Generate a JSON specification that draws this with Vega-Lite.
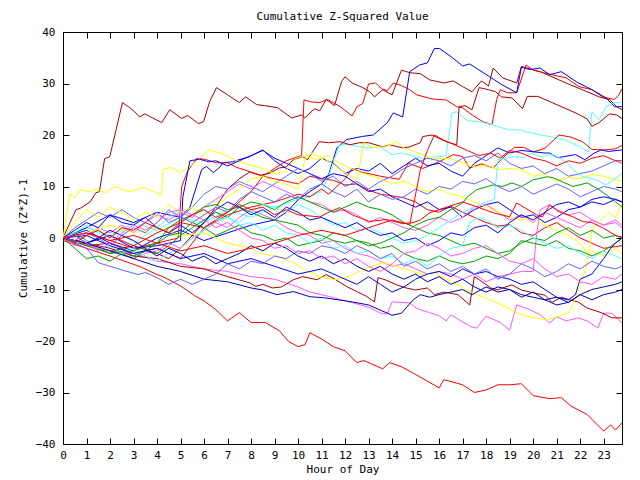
{
"$schema": "https://vega.github.io/schema/vega-lite/v6.json",
"width": 559, "height": 412,
"autosize": {"type": "none"},
"padding": {"left": 63, "top": 32, "right": 18, "bottom": 36},
"title": {"text": "Cumulative Z-Squared Value", "font": "DejaVu Sans Mono", "fontSize": 11, "fontWeight": "normal", "color": "#000", "offset": 4},
"config": {
  "view": {"stroke": null},
  "axis": {"labelFont": "DejaVu Sans Mono", "labelFontSize": 11, "titleFont": "DejaVu Sans Mono", "titleFontSize": 11, "titleFontWeight": "normal", "labelColor": "#000", "titleColor": "#000", "domainColor": "#000", "tickColor": "#000", "grid": false, "tickSize": -6, "labelPadding": 14, "domainWidth": 1, "tickWidth": 1, "labelFlush": false, "labelOverlap": false}
},
"datasets": {
"frame": [{"h": 0, "v": -40}, {"h": 23.78, "v": 40}],
"walks": [
{"s":"r1","h":0,"v":-0.5},{"s":"r1","h":1,"v":-2},{"s":"r1","h":2,"v":-3.5},{"s":"r1","h":3.3,"v":-5.6},{"s":"r1","h":4,"v":-7.1},{"s":"r1","h":4.25,"v":-7.5},{"s":"r1","h":5,"v":-9.3},{"s":"r1","h":5.6,"v":-11.2},{"s":"r1","h":6,"v":-12.2},{"s":"r1","h":6.5,"v":-13.9},{"s":"r1","h":7,"v":-16.1},{"s":"r1","h":7.5,"v":-14.5},{"s":"r1","h":8,"v":-16.4},{"s":"r1","h":8.6,"v":-16.4},{"s":"r1","h":9.2,"v":-18},{"s":"r1","h":9.6,"v":-20.1},{"s":"r1","h":10,"v":-21.1},{"s":"r1","h":10.3,"v":-20.7},{"s":"r1","h":10.5,"v":-18.4},{"s":"r1","h":11,"v":-19.6},{"s":"r1","h":11.5,"v":-21.1},{"s":"r1","h":12,"v":-21.9},{"s":"r1","h":12.5,"v":-24.2},{"s":"r1","h":12.8,"v":-23.8},{"s":"r1","h":13.6,"v":-25.4},{"s":"r1","h":13.9,"v":-24.2},{"s":"r1","h":14.4,"v":-25},{"s":"r1","h":15,"v":-26.5},{"s":"r1","h":16,"v":-29.1},{"s":"r1","h":16.2,"v":-27.5},{"s":"r1","h":17,"v":-28.5},{"s":"r1","h":17.5,"v":-30},{"s":"r1","h":18,"v":-29.5},{"s":"r1","h":18.5,"v":-28.5},{"s":"r1","h":19,"v":-28.5},{"s":"r1","h":19.5,"v":-28.3},{"s":"r1","h":20,"v":-30.6},{"s":"r1","h":20.7,"v":-31.2},{"s":"r1","h":21.2,"v":-31},{"s":"r1","h":21.6,"v":-32.6},{"s":"r1","h":22.3,"v":-34.3},{"s":"r1","h":23,"v":-37.5},{"s":"r1","h":23.3,"v":-36.3},{"s":"r1","h":23.5,"v":-37.3},{"s":"r1","h":23.78,"v":-35.9},

{"s":"d1","h":0,"v":0},{"s":"d1","h":0.3,"v":3},{"s":"d1","h":0.55,"v":5.5},{"s":"d1","h":0.75,"v":5.8},{"s":"d1","h":1.15,"v":7},{"s":"d1","h":1.4,"v":8.8},{"s":"d1","h":1.55,"v":9},{"s":"d1","h":1.77,"v":15.4},{"s":"d1","h":1.99,"v":15.8},{"s":"d1","h":2.53,"v":26.3},{"s":"d1","h":2.84,"v":25.3},{"s":"d1","h":3.05,"v":24.5},{"s":"d1","h":3.26,"v":23.5},{"s":"d1","h":3.48,"v":24.1},{"s":"d1","h":4.2,"v":22.4},{"s":"d1","h":4.54,"v":24.9},{"s":"d1","h":5.05,"v":23.2},{"s":"d1","h":5.3,"v":23.8},{"s":"d1","h":5.77,"v":22.2},{"s":"d1","h":5.98,"v":22.6},{"s":"d1","h":6.24,"v":26.5},{"s":"d1","h":6.53,"v":29.2},{"s":"d1","h":7,"v":27.8},{"s":"d1","h":7.5,"v":26.3},{"s":"d1","h":7.77,"v":27.4},{"s":"d1","h":8.24,"v":25.9},{"s":"d1","h":8.58,"v":25.7},{"s":"d1","h":9.13,"v":25.3},{"s":"d1","h":9.73,"v":23.3},{"s":"d1","h":10.15,"v":23.9},{"s":"d1","h":10.28,"v":23.3},{"s":"d1","h":10.7,"v":25.1},{"s":"d1","h":10.92,"v":24.7},{"s":"d1","h":11.2,"v":26.9},{"s":"d1","h":11.55,"v":25.7},{"s":"d1","h":11.85,"v":30.4},{"s":"d1","h":12,"v":31.3},{"s":"d1","h":12.3,"v":30.1},{"s":"d1","h":12.75,"v":29.2},{"s":"d1","h":13.05,"v":28.4},{"s":"d1","h":13.25,"v":27.4},{"s":"d1","h":13.6,"v":28.8},{"s":"d1","h":14,"v":27.8},{"s":"d1","h":14.4,"v":32.6},{"s":"d1","h":14.75,"v":32.1},{"s":"d1","h":15.2,"v":31.9},{"s":"d1","h":15.6,"v":30.7},{"s":"d1","h":16.2,"v":30.1},{"s":"d1","h":16.6,"v":30.5},{"s":"d1","h":17,"v":29.4},{"s":"d1","h":17.4,"v":28.4},{"s":"d1","h":17.8,"v":30.5},{"s":"d1","h":18.1,"v":29.5},{"s":"d1","h":18.3,"v":33},{"s":"d1","h":18.7,"v":31.1},{"s":"d1","h":19.3,"v":30.1},{"s":"d1","h":19.5,"v":33.3},{"s":"d1","h":20.3,"v":32.3},{"s":"d1","h":20.8,"v":31.3},{"s":"d1","h":21.4,"v":30.1},{"s":"d1","h":22.3,"v":28.4},{"s":"d1","h":22.8,"v":27.4},{"s":"d1","h":23.25,"v":26.9},{"s":"d1","h":23.55,"v":25.5},{"s":"d1","h":23.78,"v":24.9},

{"s":"r2","h":0,"v":0},{"s":"r2","h":1,"v":-1.5},{"s":"r2","h":2,"v":-1},{"s":"r2","h":3,"v":-3},{"s":"r2","h":4,"v":-2},{"s":"r2","h":5,"v":-4},{"s":"r2","h":5.5,"v":-1},{"s":"r2","h":6,"v":2},{"s":"r2","h":7,"v":5},{"s":"r2","h":8,"v":9},{"s":"r2","h":8.5,"v":12},{"s":"r2","h":9,"v":13.5},{"s":"r2","h":9.5,"v":15},{"s":"r2","h":10,"v":15.8},{"s":"r2","h":10.15,"v":16},{"s":"r2","h":10.25,"v":26.8},{"s":"r2","h":10.6,"v":26.4},{"s":"r2","h":10.92,"v":26.3},{"s":"r2","h":11.25,"v":26.9},{"s":"r2","h":11.8,"v":25.5},{"s":"r2","h":12.3,"v":23.7},{"s":"r2","h":12.5,"v":25.5},{"s":"r2","h":12.75,"v":26.1},{"s":"r2","h":13,"v":29.9},{"s":"r2","h":13.3,"v":30.1},{"s":"r2","h":13.55,"v":29},{"s":"r2","h":13.8,"v":28.6},{"s":"r2","h":14.05,"v":30.1},{"s":"r2","h":14.4,"v":29.6},{"s":"r2","h":14.75,"v":28.8},{"s":"r2","h":15.05,"v":27.8},{"s":"r2","h":15.7,"v":27},{"s":"r2","h":16.3,"v":26.8},{"s":"r2","h":16.75,"v":25.5},{"s":"r2","h":17,"v":25.3},{"s":"r2","h":17.4,"v":23.9},{"s":"r2","h":17.85,"v":22.6},{"s":"r2","h":18.25,"v":22},{"s":"r2","h":18.45,"v":26.9},{"s":"r2","h":18.6,"v":28.8},{"s":"r2","h":18.9,"v":28.2},{"s":"r2","h":19.3,"v":28.2},{"s":"r2","h":19.7,"v":33.6},{"s":"r2","h":20,"v":32.6},{"s":"r2","h":20.8,"v":31.7},{"s":"r2","h":21.4,"v":31.1},{"s":"r2","h":21.95,"v":29.4},{"s":"r2","h":22.5,"v":28.8},{"s":"r2","h":22.95,"v":27.4},{"s":"r2","h":23.45,"v":26.9},{"s":"r2","h":23.65,"v":27.8},{"s":"r2","h":23.78,"v":29},

{"s":"b1","h":0,"v":0},{"s":"b1","h":1,"v":1.5},{"s":"b1","h":2,"v":-1},{"s":"b1","h":3,"v":-2.5},{"s":"b1","h":4,"v":0},{"s":"b1","h":5,"v":1.5},{"s":"b1","h":6,"v":-0.5},{"s":"b1","h":7,"v":1},{"s":"b1","h":8,"v":2.5},{"s":"b1","h":9,"v":3.5},{"s":"b1","h":9.5,"v":5},{"s":"b1","h":10,"v":7.4},{"s":"b1","h":10.5,"v":9},{"s":"b1","h":11,"v":10.5},{"s":"b1","h":11.3,"v":12.3},{"s":"b1","h":11.65,"v":17.5},{"s":"b1","h":12.06,"v":19.1},{"s":"b1","h":12.7,"v":19.7},{"s":"b1","h":13.2,"v":20},{"s":"b1","h":13.8,"v":22.4},{"s":"b1","h":14.05,"v":24.3},{"s":"b1","h":14.45,"v":23.5},{"s":"b1","h":14.75,"v":32.3},{"s":"b1","h":15.17,"v":33.6},{"s":"b1","h":15.5,"v":34},{"s":"b1","h":15.8,"v":36.8},{"s":"b1","h":16.02,"v":36.8},{"s":"b1","h":16.57,"v":35},{"s":"b1","h":17,"v":33.4},{"s":"b1","h":17.3,"v":33.8},{"s":"b1","h":18.15,"v":31.3},{"s":"b1","h":18.66,"v":29.8},{"s":"b1","h":19.3,"v":28.2},{"s":"b1","h":19.5,"v":33.2},{"s":"b1","h":19.85,"v":32.7},{"s":"b1","h":20.3,"v":33},{"s":"b1","h":20.7,"v":31.7},{"s":"b1","h":21.2,"v":32.3},{"s":"b1","h":21.85,"v":30.3},{"s":"b1","h":22.5,"v":28.8},{"s":"b1","h":23.1,"v":27.2},{"s":"b1","h":23.46,"v":25.5},{"s":"b1","h":23.78,"v":25.5},

{"s":"c2","h":0,"v":0},{"s":"c2","h":1,"v":2},{"s":"c2","h":2,"v":0.5},{"s":"c2","h":3,"v":3},{"s":"c2","h":4,"v":1.5},{"s":"c2","h":5,"v":4},{"s":"c2","h":6,"v":3},{"s":"c2","h":7,"v":5.5},{"s":"c2","h":8,"v":4},{"s":"c2","h":9,"v":6},{"s":"c2","h":10,"v":7.5},{"s":"c2","h":10.5,"v":8},{"s":"c2","h":11,"v":9},{"s":"c2","h":11.3,"v":12},{"s":"c2","h":11.75,"v":18},{"s":"c2","h":12.1,"v":18.2},{"s":"c2","h":12.5,"v":17.8},{"s":"c2","h":13,"v":17.5},{"s":"c2","h":13.5,"v":17.6},{"s":"c2","h":14,"v":16.2},{"s":"c2","h":14.4,"v":16.5},{"s":"c2","h":15,"v":15.8},{"s":"c2","h":15.4,"v":15.4},{"s":"c2","h":16,"v":15.8},{"s":"c2","h":16.3,"v":16},{"s":"c2","h":16.55,"v":24.3},{"s":"c2","h":16.75,"v":24.5},{"s":"c2","h":17.2,"v":22.8},{"s":"c2","h":17.8,"v":22.5},{"s":"c2","h":18.25,"v":22},{"s":"c2","h":18.95,"v":21},{"s":"c2","h":19.5,"v":21},{"s":"c2","h":19.7,"v":20.6},{"s":"c2","h":20.8,"v":19.6},{"s":"c2","h":21.4,"v":19},{"s":"c2","h":22,"v":17.7},{"s":"c2","h":22.35,"v":16.7},{"s":"c2","h":22.5,"v":24.5},{"s":"c2","h":22.8,"v":23},{"s":"c2","h":23.1,"v":25.5},{"s":"c2","h":23.4,"v":26.2},{"s":"c2","h":23.78,"v":26.4},

{"s":"d2","h":0,"v":0},{"s":"d2","h":1,"v":-1.2},{"s":"d2","h":2,"v":-2.5},{"s":"d2","h":3,"v":-1.5},{"s":"d2","h":4,"v":-3},{"s":"d2","h":4.5,"v":-4},{"s":"d2","h":5,"v":-2},{"s":"d2","h":5.5,"v":0.5},{"s":"d2","h":6,"v":3},{"s":"d2","h":6.5,"v":6},{"s":"d2","h":7,"v":9.5},{"s":"d2","h":7.5,"v":11.5},{"s":"d2","h":7.94,"v":12.8},{"s":"d2","h":8.4,"v":12.2},{"s":"d2","h":8.8,"v":12.6},{"s":"d2","h":9.2,"v":13.6},{"s":"d2","h":9.5,"v":13.8},{"s":"d2","h":9.8,"v":15.2},{"s":"d2","h":10.2,"v":15.8},{"s":"d2","h":10.4,"v":15.2},{"s":"d2","h":10.9,"v":18.7},{"s":"d2","h":11.3,"v":18.5},{"s":"d2","h":11.8,"v":18.7},{"s":"d2","h":12.2,"v":18.1},{"s":"d2","h":12.6,"v":18.5},{"s":"d2","h":13,"v":18.5},{"s":"d2","h":13.6,"v":17.7},{"s":"d2","h":13.9,"v":18.1},{"s":"d2","h":14.45,"v":17.5},{"s":"d2","h":14.75,"v":17.7},{"s":"d2","h":15.2,"v":18.5},{"s":"d2","h":15.3,"v":19.7},{"s":"d2","h":15.7,"v":20},{"s":"d2","h":16.3,"v":18.7},{"s":"d2","h":16.75,"v":18.1},{"s":"d2","h":16.85,"v":25.5},{"s":"d2","h":17.1,"v":25.7},{"s":"d2","h":17.4,"v":24.9},{"s":"d2","h":17.7,"v":29.2},{"s":"d2","h":18.1,"v":28.8},{"s":"d2","h":18.4,"v":28.4},{"s":"d2","h":18.65,"v":27.4},{"s":"d2","h":19.1,"v":27.2},{"s":"d2","h":19.55,"v":25.1},{"s":"d2","h":19.75,"v":27.5},{"s":"d2","h":20.2,"v":27.5},{"s":"d2","h":20.8,"v":26.3},{"s":"d2","h":21.4,"v":25.1},{"s":"d2","h":21.9,"v":24.1},{"s":"d2","h":22.3,"v":23.1},{"s":"d2","h":22.5,"v":21.7},{"s":"d2","h":22.8,"v":22.4},{"s":"d2","h":23.25,"v":24.1},{"s":"d2","h":23.55,"v":23.9},{"s":"d2","h":23.78,"v":23.2},

{"s":"r4","h":0,"v":0},{"s":"r4","h":1,"v":-1},{"s":"r4","h":2,"v":0.5},{"s":"r4","h":3,"v":-1.5},{"s":"r4","h":4,"v":1},{"s":"r4","h":5,"v":3},{"s":"r4","h":6,"v":2},{"s":"r4","h":7,"v":4.5},{"s":"r4","h":8,"v":6},{"s":"r4","h":9,"v":7},{"s":"r4","h":10,"v":8.5},{"s":"r4","h":10.5,"v":8},{"s":"r4","h":11,"v":9.5},{"s":"r4","h":11.3,"v":8.5},{"s":"r4","h":12,"v":11.5},{"s":"r4","h":12.3,"v":13.5},{"s":"r4","h":12.7,"v":12.8},{"s":"r4","h":13.5,"v":12},{"s":"r4","h":14.3,"v":11.4},{"s":"r4","h":14.7,"v":14.5},{"s":"r4","h":15.3,"v":13.5},{"s":"r4","h":16,"v":14.8},{"s":"r4","h":16.6,"v":16.2},{"s":"r4","h":17,"v":15.8},{"s":"r4","h":17.3,"v":13.6},{"s":"r4","h":17.8,"v":14.4},{"s":"r4","h":18.3,"v":13.6},{"s":"r4","h":18.7,"v":15.5},{"s":"r4","h":19.2,"v":17.6},{"s":"r4","h":19.6,"v":17.6},{"s":"r4","h":20,"v":16.7},{"s":"r4","h":20.5,"v":17.4},{"s":"r4","h":21.1,"v":20},{"s":"r4","h":21.6,"v":19.6},{"s":"r4","h":22.1,"v":18.7},{"s":"r4","h":22.5,"v":17.2},{"s":"r4","h":23,"v":17.1},{"s":"r4","h":23.5,"v":17.3},{"s":"r4","h":23.78,"v":18},

{"s":"b2","h":0,"v":0},{"s":"b2","h":1,"v":2},{"s":"b2","h":2,"v":4.5},{"s":"b2","h":3,"v":3},{"s":"b2","h":4,"v":5},{"s":"b2","h":5,"v":4},{"s":"b2","h":5.4,"v":6},{"s":"b2","h":5.9,"v":13.3},{"s":"b2","h":6.1,"v":13.9},{"s":"b2","h":6.4,"v":12.7},{"s":"b2","h":6.7,"v":13.9},{"s":"b2","h":6.8,"v":14.6},{"s":"b2","h":7.2,"v":14.8},{"s":"b2","h":7.94,"v":15.8},{"s":"b2","h":8.5,"v":17.1},{"s":"b2","h":9,"v":15},{"s":"b2","h":9.5,"v":13.5},{"s":"b2","h":10,"v":12.5},{"s":"b2","h":10.5,"v":13.5},{"s":"b2","h":11,"v":15.5},{"s":"b2","h":11.5,"v":14.5},{"s":"b2","h":12,"v":12.5},{"s":"b2","h":12.5,"v":13.5},{"s":"b2","h":13,"v":13},{"s":"b2","h":13.5,"v":14.5},{"s":"b2","h":14,"v":12.5},{"s":"b2","h":14.5,"v":14},{"s":"b2","h":15,"v":15.5},{"s":"b2","h":15.5,"v":14},{"s":"b2","h":16,"v":14.5},{"s":"b2","h":16.5,"v":13},{"s":"b2","h":17,"v":12},{"s":"b2","h":17.5,"v":14.5},{"s":"b2","h":18,"v":16},{"s":"b2","h":18.5,"v":17.5},{"s":"b2","h":19,"v":16.5},{"s":"b2","h":19.5,"v":17},{"s":"b2","h":20.5,"v":16.5},{"s":"b2","h":20.7,"v":16.5},{"s":"b2","h":21.05,"v":15.6},{"s":"b2","h":21.8,"v":16.2},{"s":"b2","h":22.2,"v":15.2},{"s":"b2","h":22.6,"v":16.5},{"s":"b2","h":22.9,"v":17.1},{"s":"b2","h":23.2,"v":16.8},{"s":"b2","h":23.78,"v":17.1},

{"s":"r3","h":0,"v":0},{"s":"r3","h":1,"v":1},{"s":"r3","h":2,"v":-0.5},{"s":"r3","h":3,"v":-2},{"s":"r3","h":4,"v":-1},{"s":"r3","h":4.9,"v":0},{"s":"r3","h":5.05,"v":10},{"s":"r3","h":5.3,"v":13},{"s":"r3","h":5.7,"v":15.5},{"s":"r3","h":6.1,"v":15.2},{"s":"r3","h":6.5,"v":14.6},{"s":"r3","h":7,"v":14.6},{"s":"r3","h":7.4,"v":13.7},{"s":"r3","h":8,"v":12.8},{"s":"r3","h":8.5,"v":12},{"s":"r3","h":9,"v":11.5},{"s":"r3","h":9.5,"v":11},{"s":"r3","h":10,"v":10.5},{"s":"r3","h":10.5,"v":12},{"s":"r3","h":11,"v":11.5},{"s":"r3","h":11.5,"v":11.2},{"s":"r3","h":12,"v":10.3},{"s":"r3","h":12.5,"v":10.5},{"s":"r3","h":13,"v":9.3},{"s":"r3","h":13.5,"v":8.5},{"s":"r3","h":14,"v":8.2},{"s":"r3","h":14.5,"v":7.8},{"s":"r3","h":15,"v":7},{"s":"r3","h":15.5,"v":5.5},{"s":"r3","h":16,"v":5},{"s":"r3","h":16.5,"v":6.2},{"s":"r3","h":17,"v":5},{"s":"r3","h":17.5,"v":4},{"s":"r3","h":18,"v":3},{"s":"r3","h":18.5,"v":2.3},{"s":"r3","h":19,"v":2.6},{"s":"r3","h":19.5,"v":1},{"s":"r3","h":20,"v":0.5},{"s":"r3","h":20.5,"v":2},{"s":"r3","h":21,"v":3},{"s":"r3","h":21.5,"v":1.5},{"s":"r3","h":22,"v":0},{"s":"r3","h":22.5,"v":-1},{"s":"r3","h":23,"v":-2},{"s":"r3","h":23.78,"v":-1.5},

{"s":"y1","h":0,"v":0},{"s":"y1","h":0.3,"v":8.7},{"s":"y1","h":0.5,"v":7.8},{"s":"y1","h":0.75,"v":9.4},{"s":"y1","h":1.1,"v":9},{"s":"y1","h":1.4,"v":9.4},{"s":"y1","h":1.8,"v":8.8},{"s":"y1","h":2.2,"v":10},{"s":"y1","h":2.8,"v":9},{"s":"y1","h":3.4,"v":9.8},{"s":"y1","h":4.2,"v":8.4},{"s":"y1","h":4.25,"v":13.3},{"s":"y1","h":4.6,"v":13.7},{"s":"y1","h":5,"v":12.7},{"s":"y1","h":5.4,"v":13.9},{"s":"y1","h":6.2,"v":17.1},{"s":"y1","h":6.7,"v":16.5},{"s":"y1","h":7.3,"v":15.2},{"s":"y1","h":7.95,"v":14.2},{"s":"y1","h":8.5,"v":13.5},{"s":"y1","h":9,"v":12.5},{"s":"y1","h":9.5,"v":13},{"s":"y1","h":9.9,"v":15.5},{"s":"y1","h":10.3,"v":16},{"s":"y1","h":10.7,"v":15.3},{"s":"y1","h":11.1,"v":15.5},{"s":"y1","h":11.6,"v":14},{"s":"y1","h":12,"v":12.5},{"s":"y1","h":12.5,"v":11.3},{"s":"y1","h":12.8,"v":18.5},{"s":"y1","h":13.2,"v":17.6},{"s":"y1","h":13.7,"v":17.7},{"s":"y1","h":14.2,"v":18.7},{"s":"y1","h":14.5,"v":17.5},{"s":"y1","h":15,"v":16.7},{"s":"y1","h":15.5,"v":15.8},{"s":"y1","h":16,"v":15.4},{"s":"y1","h":16.5,"v":15.4},{"s":"y1","h":17,"v":14.6},{"s":"y1","h":17.5,"v":13.8},{"s":"y1","h":18,"v":14.2},{"s":"y1","h":18.5,"v":13.3},{"s":"y1","h":19,"v":13.5},{"s":"y1","h":19.5,"v":13.3},{"s":"y1","h":20,"v":12},{"s":"y1","h":20.5,"v":12.5},{"s":"y1","h":21,"v":11},{"s":"y1","h":21.5,"v":11.8},{"s":"y1","h":22,"v":11.5},{"s":"y1","h":22.5,"v":12.3},{"s":"y1","h":23,"v":12},{"s":"y1","h":23.78,"v":11},

{"s":"b3","h":0,"v":0},{"s":"b3","h":1,"v":-1},{"s":"b3","h":2,"v":0.5},{"s":"b3","h":3,"v":-2},{"s":"b3","h":4,"v":-1.5},{"s":"b3","h":5,"v":-0.5},{"s":"b3","h":5.1,"v":8},{"s":"b3","h":5.4,"v":15},{"s":"b3","h":5.8,"v":15.3},{"s":"b3","h":6.2,"v":14.8},{"s":"b3","h":6.5,"v":15},{"s":"b3","h":7,"v":14},{"s":"b3","h":7.5,"v":15},{"s":"b3","h":8,"v":16},{"s":"b3","h":8.5,"v":17},{"s":"b3","h":9,"v":15.5},{"s":"b3","h":9.5,"v":14.5},{"s":"b3","h":10,"v":13.5},{"s":"b3","h":10.5,"v":12.5},{"s":"b3","h":11,"v":11.5},{"s":"b3","h":11.5,"v":12.5},{"s":"b3","h":12,"v":12},{"s":"b3","h":12.5,"v":10.5},{"s":"b3","h":13,"v":9},{"s":"b3","h":13.5,"v":9.5},{"s":"b3","h":14,"v":8},{"s":"b3","h":14.5,"v":7},{"s":"b3","h":15,"v":6},{"s":"b3","h":15.5,"v":7},{"s":"b3","h":16,"v":5.5},{"s":"b3","h":16.5,"v":6},{"s":"b3","h":17,"v":4},{"s":"b3","h":17.5,"v":5.5},{"s":"b3","h":18,"v":6.5},{"s":"b3","h":18.5,"v":7},{"s":"b3","h":19,"v":5.5},{"s":"b3","h":19.5,"v":4},{"s":"b3","h":20,"v":4.5},{"s":"b3","h":20.5,"v":3},{"s":"b3","h":21,"v":4},{"s":"b3","h":21.5,"v":5.5},{"s":"b3","h":22,"v":6},{"s":"b3","h":22.5,"v":7},{"s":"b3","h":23,"v":6.5},{"s":"b3","h":23.5,"v":7.5},{"s":"b3","h":23.78,"v":7},

{"s":"l1","h":0,"v":0},{"s":"l1","h":0.5,"v":2},{"s":"l1","h":1,"v":3.5},{"s":"l1","h":1.5,"v":5},{"s":"l1","h":2,"v":4},{"s":"l1","h":2.5,"v":5.5},{"s":"l1","h":3,"v":4},{"s":"l1","h":3.5,"v":3},{"s":"l1","h":4,"v":5},{"s":"l1","h":4.5,"v":3},{"s":"l1","h":5,"v":4},{"s":"l1","h":5.5,"v":6},{"s":"l1","h":6,"v":8.5},{"s":"l1","h":6.5,"v":10},{"s":"l1","h":7,"v":9.5},{"s":"l1","h":7.5,"v":11},{"s":"l1","h":8,"v":10},{"s":"l1","h":8.5,"v":9},{"s":"l1","h":9,"v":10.5},{"s":"l1","h":9.5,"v":12},{"s":"l1","h":10,"v":13.5},{"s":"l1","h":10.5,"v":12.5},{"s":"l1","h":11,"v":11},{"s":"l1","h":11.5,"v":12},{"s":"l1","h":12,"v":10},{"s":"l1","h":12.5,"v":11},{"s":"l1","h":13,"v":9.5},{"s":"l1","h":13.5,"v":11},{"s":"l1","h":14,"v":12},{"s":"l1","h":14.5,"v":13.5},{"s":"l1","h":15,"v":14.5},{"s":"l1","h":15.5,"v":15.5},{"s":"l1","h":16,"v":15},{"s":"l1","h":16.5,"v":14},{"s":"l1","h":17,"v":15.5},{"s":"l1","h":17.5,"v":16},{"s":"l1","h":18,"v":15},{"s":"l1","h":18.5,"v":16.5},{"s":"l1","h":19,"v":14.5},{"s":"l1","h":19.5,"v":13.5},{"s":"l1","h":20,"v":14},{"s":"l1","h":20.5,"v":12.5},{"s":"l1","h":21,"v":13.5},{"s":"l1","h":21.5,"v":12},{"s":"l1","h":22,"v":12.5},{"s":"l1","h":22.5,"v":13},{"s":"l1","h":23,"v":14},{"s":"l1","h":23.5,"v":15},{"s":"l1","h":23.78,"v":14.5},

{"s":"m1","h":0,"v":0},{"s":"m1","h":0.5,"v":-1},{"s":"m1","h":1,"v":0.5},{"s":"m1","h":1.5,"v":2},{"s":"m1","h":2,"v":1},{"s":"m1","h":2.5,"v":2.5},{"s":"m1","h":3,"v":1},{"s":"m1","h":3.5,"v":3},{"s":"m1","h":4,"v":4.5},{"s":"m1","h":4.5,"v":3.5},{"s":"m1","h":5,"v":5},{"s":"m1","h":5.5,"v":4},{"s":"m1","h":6,"v":6},{"s":"m1","h":6.5,"v":7.5},{"s":"m1","h":7,"v":9},{"s":"m1","h":7.5,"v":10.5},{"s":"m1","h":8,"v":9.5},{"s":"m1","h":8.5,"v":11},{"s":"m1","h":9,"v":10},{"s":"m1","h":9.5,"v":9},{"s":"m1","h":10,"v":8},{"s":"m1","h":10.5,"v":7},{"s":"m1","h":11,"v":6.5},{"s":"m1","h":11.5,"v":5},{"s":"m1","h":12,"v":5.5},{"s":"m1","h":12.5,"v":4.5},{"s":"m1","h":13,"v":3},{"s":"m1","h":13.5,"v":4},{"s":"m1","h":14,"v":3},{"s":"m1","h":14.5,"v":2},{"s":"m1","h":15,"v":1.5},{"s":"m1","h":15.5,"v":2.5},{"s":"m1","h":16,"v":4},{"s":"m1","h":16.5,"v":3},{"s":"m1","h":17,"v":4},{"s":"m1","h":17.5,"v":6},{"s":"m1","h":18,"v":6.5},{"s":"m1","h":18.5,"v":5},{"s":"m1","h":19,"v":3.5},{"s":"m1","h":19.5,"v":4.5},{"s":"m1","h":20,"v":3},{"s":"m1","h":20.5,"v":5},{"s":"m1","h":21,"v":4},{"s":"m1","h":21.5,"v":3},{"s":"m1","h":22,"v":2},{"s":"m1","h":22.5,"v":3.5},{"s":"m1","h":23,"v":2.5},{"s":"m1","h":23.5,"v":3},{"s":"m1","h":23.78,"v":2},

{"s":"m2","h":0,"v":0},{"s":"m2","h":0.5,"v":-1.5},{"s":"m2","h":1,"v":-0.5},{"s":"m2","h":1.5,"v":-2},{"s":"m2","h":2,"v":-3},{"s":"m2","h":2.5,"v":-2},{"s":"m2","h":3,"v":-4},{"s":"m2","h":3.5,"v":-3},{"s":"m2","h":4,"v":-2.5},{"s":"m2","h":4.5,"v":-1},{"s":"m2","h":5,"v":-2},{"s":"m2","h":5.5,"v":0},{"s":"m2","h":6,"v":1.5},{"s":"m2","h":6.5,"v":3},{"s":"m2","h":7,"v":2},{"s":"m2","h":7.5,"v":4},{"s":"m2","h":8,"v":5.5},{"s":"m2","h":8.5,"v":4.5},{"s":"m2","h":9,"v":3.5},{"s":"m2","h":9.5,"v":2},{"s":"m2","h":10,"v":1},{"s":"m2","h":10.5,"v":0.5},{"s":"m2","h":11,"v":-1},{"s":"m2","h":11.5,"v":-0.5},{"s":"m2","h":12,"v":-2},{"s":"m2","h":12.5,"v":-3},{"s":"m2","h":13,"v":-3.5},{"s":"m2","h":13.5,"v":-4.5},{"s":"m2","h":14,"v":-5.5},{"s":"m2","h":14.5,"v":-5},{"s":"m2","h":15,"v":-6},{"s":"m2","h":15.5,"v":-7},{"s":"m2","h":16,"v":-6.5},{"s":"m2","h":16.5,"v":-7},{"s":"m2","h":17,"v":-8},{"s":"m2","h":17.5,"v":-7},{"s":"m2","h":18,"v":-8.5},{"s":"m2","h":18.5,"v":-7.5},{"s":"m2","h":19,"v":-7},{"s":"m2","h":19.5,"v":-6.5},{"s":"m2","h":20,"v":-6.5},{"s":"m2","h":20.15,"v":0.7},{"s":"m2","h":20.3,"v":5.5},{"s":"m2","h":20.7,"v":6.5},{"s":"m2","h":21,"v":5.5},{"s":"m2","h":21.5,"v":4.5},{"s":"m2","h":22,"v":5},{"s":"m2","h":22.5,"v":3.5},{"s":"m2","h":23,"v":2.5},{"s":"m2","h":23.5,"v":3.5},{"s":"m2","h":23.78,"v":2.5},

{"s":"m3","h":0,"v":0},{"s":"m3","h":1,"v":-1.5},{"s":"m3","h":2,"v":-2.5},{"s":"m3","h":3,"v":-3},{"s":"m3","h":4,"v":-4.5},{"s":"m3","h":5,"v":-5},{"s":"m3","h":6,"v":-6},{"s":"m3","h":7,"v":-6.5},{"s":"m3","h":8,"v":-7.5},{"s":"m3","h":9,"v":-8},{"s":"m3","h":10,"v":-9.5},{"s":"m3","h":10.5,"v":-10.5},{"s":"m3","h":11,"v":-11},{"s":"m3","h":11.85,"v":-12},{"s":"m3","h":12.5,"v":-12.8},{"s":"m3","h":13.05,"v":-13.5},{"s":"m3","h":13.56,"v":-14.7},{"s":"m3","h":13.8,"v":-14.7},{"s":"m3","h":14,"v":-12.4},{"s":"m3","h":14.75,"v":-12.6},{"s":"m3","h":15.05,"v":-13.7},{"s":"m3","h":15.6,"v":-14.5},{"s":"m3","h":16,"v":-15.1},{"s":"m3","h":16.3,"v":-16.1},{"s":"m3","h":16.5,"v":-14.9},{"s":"m3","h":17,"v":-16.3},{"s":"m3","h":17.4,"v":-17.3},{"s":"m3","h":17.6,"v":-17.5},{"s":"m3","h":18,"v":-15.2},{"s":"m3","h":18.6,"v":-16.4},{"s":"m3","h":19,"v":-17.9},{"s":"m3","h":19.3,"v":-13},{"s":"m3","h":19.85,"v":-13.9},{"s":"m3","h":20.3,"v":-14.9},{"s":"m3","h":20.7,"v":-16.5},{"s":"m3","h":21,"v":-15.3},{"s":"m3","h":21.4,"v":-16.1},{"s":"m3","h":21.9,"v":-15.5},{"s":"m3","h":22.3,"v":-16.1},{"s":"m3","h":22.75,"v":-17.5},{"s":"m3","h":23,"v":-14.6},{"s":"m3","h":23.35,"v":-14.6},{"s":"m3","h":23.78,"v":-16.5},

{"s":"d3","h":0,"v":0},{"s":"d3","h":1,"v":-1},{"s":"d3","h":2,"v":-2},{"s":"d3","h":3,"v":-3.5},{"s":"d3","h":4,"v":-4},{"s":"d3","h":5,"v":-5.5},{"s":"d3","h":6,"v":-6},{"s":"d3","h":7,"v":-7.5},{"s":"d3","h":7.94,"v":-8.7},{"s":"d3","h":8.2,"v":-9.4},{"s":"d3","h":8.5,"v":-9},{"s":"d3","h":8.9,"v":-9.7},{"s":"d3","h":9.3,"v":-9.5},{"s":"d3","h":9.8,"v":-8.1},{"s":"d3","h":10.2,"v":-7.5},{"s":"d3","h":10.8,"v":-8.1},{"s":"d3","h":11.2,"v":-7.1},{"s":"d3","h":11.6,"v":-8.1},{"s":"d3","h":12.1,"v":-9.5},{"s":"d3","h":12.5,"v":-10.4},{"s":"d3","h":12.9,"v":-11.3},{"s":"d3","h":13.25,"v":-12.4},{"s":"d3","h":13.4,"v":-7.7},{"s":"d3","h":13.7,"v":-8.1},{"s":"d3","h":14.2,"v":-9.1},{"s":"d3","h":14.6,"v":-9.7},{"s":"d3","h":15,"v":-10.1},{"s":"d3","h":15.5,"v":-9.7},{"s":"d3","h":15.8,"v":-11},{"s":"d3","h":16.2,"v":-10.5},{"s":"d3","h":16.8,"v":-11},{"s":"d3","h":17.3,"v":-13},{"s":"d3","h":17.5,"v":-7.5},{"s":"d3","h":17.7,"v":-8.1},{"s":"d3","h":18.2,"v":-9.7},{"s":"d3","h":18.5,"v":-10.1},{"s":"d3","h":18.7,"v":-9.7},{"s":"d3","h":19.1,"v":-9.1},{"s":"d3","h":19.5,"v":-10.1},{"s":"d3","h":20.06,"v":-10.7},{"s":"d3","h":20.5,"v":-11.1},{"s":"d3","h":20.8,"v":-12.5},{"s":"d3","h":21.2,"v":-11.5},{"s":"d3","h":21.55,"v":-12},{"s":"d3","h":21.9,"v":-12.4},{"s":"d3","h":22.3,"v":-13.6},{"s":"d3","h":22.9,"v":-14.5},{"s":"d3","h":23.35,"v":-15.5},{"s":"d3","h":23.78,"v":-15.5},

{"s":"y3","h":0,"v":0},{"s":"y3","h":1,"v":1},{"s":"y3","h":2,"v":2.5},{"s":"y3","h":3,"v":1},{"s":"y3","h":4,"v":2},{"s":"y3","h":5,"v":0.5},{"s":"y3","h":6,"v":1},{"s":"y3","h":7,"v":-1},{"s":"y3","h":8,"v":-2},{"s":"y3","h":8.37,"v":-2.9},{"s":"y3","h":9.1,"v":-3.6},{"s":"y3","h":9.8,"v":-4.8},{"s":"y3","h":10.4,"v":-6.5},{"s":"y3","h":10.9,"v":-7.5},{"s":"y3","h":11.5,"v":-8.1},{"s":"y3","h":12.06,"v":-7.7},{"s":"y3","h":12.5,"v":-6.7},{"s":"y3","h":13,"v":-5.7},{"s":"y3","h":13.6,"v":-4.8},{"s":"y3","h":14,"v":-5.2},{"s":"y3","h":14.6,"v":-6.1},{"s":"y3","h":15.3,"v":-7.1},{"s":"y3","h":15.8,"v":-6.7},{"s":"y3","h":16.2,"v":-7.7},{"s":"y3","h":16.95,"v":-9.5},{"s":"y3","h":17.4,"v":-10.7},{"s":"y3","h":17.9,"v":-11.5},{"s":"y3","h":18.66,"v":-13},{"s":"y3","h":19.2,"v":-14.3},{"s":"y3","h":19.8,"v":-15.3},{"s":"y3","h":20.06,"v":-15.5},{"s":"y3","h":20.6,"v":-15.9},{"s":"y3","h":21,"v":-15.3},{"s":"y3","h":21.5,"v":-14.5},{"s":"y3","h":21.65,"v":-13.3},{"s":"y3","h":22.1,"v":-8.1},{"s":"y3","h":22.3,"v":-4.8},{"s":"y3","h":22.5,"v":1.6},{"s":"y3","h":22.8,"v":3},{"s":"y3","h":23.2,"v":5},{"s":"y3","h":23.5,"v":4},{"s":"y3","h":23.78,"v":6.5},

{"s":"y2","h":0,"v":0},{"s":"y2","h":0.5,"v":3},{"s":"y2","h":1,"v":5.5},{"s":"y2","h":1.5,"v":4},{"s":"y2","h":2,"v":6},{"s":"y2","h":2.5,"v":5},{"s":"y2","h":3,"v":3.5},{"s":"y2","h":3.5,"v":5},{"s":"y2","h":4,"v":4},{"s":"y2","h":4.5,"v":6.5},{"s":"y2","h":5,"v":5},{"s":"y2","h":5.5,"v":6},{"s":"y2","h":6,"v":4.5},{"s":"y2","h":6.5,"v":6},{"s":"y2","h":7,"v":8},{"s":"y2","h":7.5,"v":9.5},{"s":"y2","h":8,"v":11.5},{"s":"y2","h":8.5,"v":12},{"s":"y2","h":9,"v":11},{"s":"y2","h":9.5,"v":10.5},{"s":"y2","h":10,"v":9.5},{"s":"y2","h":10.3,"v":15.5},{"s":"y2","h":10.6,"v":16.5},{"s":"y2","h":11,"v":15.5},{"s":"y2","h":11.3,"v":16},{"s":"y2","h":11.6,"v":15},{"s":"y2","h":12,"v":14},{"s":"y2","h":12.5,"v":13},{"s":"y2","h":13,"v":12.2},{"s":"y2","h":13.5,"v":11.5},{"s":"y2","h":14,"v":10.5},{"s":"y2","h":14.5,"v":11},{"s":"y2","h":15,"v":10},{"s":"y2","h":15.5,"v":9},{"s":"y2","h":16,"v":9.5},{"s":"y2","h":16.5,"v":8.5},{"s":"y2","h":17,"v":8},{"s":"y2","h":17.5,"v":7},{"s":"y2","h":18,"v":6},{"s":"y2","h":18.5,"v":5},{"s":"y2","h":19,"v":4},{"s":"y2","h":19.5,"v":3.5},{"s":"y2","h":20,"v":4},{"s":"y2","h":20.5,"v":2.5},{"s":"y2","h":21,"v":1.5},{"s":"y2","h":21.5,"v":0.5},{"s":"y2","h":22,"v":-1},{"s":"y2","h":22.3,"v":-3},{"s":"y2","h":22.5,"v":-2.5},{"s":"y2","h":23,"v":-3.5},{"s":"y2","h":23.5,"v":-2},{"s":"y2","h":23.78,"v":-3},

{"s":"g1","h":0,"v":0},{"s":"g1","h":1,"v":-1.5},{"s":"g1","h":2,"v":-3},{"s":"g1","h":3,"v":-2.5},{"s":"g1","h":4,"v":-1},{"s":"g1","h":4.5,"v":2},{"s":"g1","h":5,"v":3.5},{"s":"g1","h":5.5,"v":4.5},{"s":"g1","h":6,"v":6},{"s":"g1","h":6.5,"v":6.5},{"s":"g1","h":7,"v":5.5},{"s":"g1","h":7.5,"v":6},{"s":"g1","h":8,"v":5},{"s":"g1","h":8.5,"v":4},{"s":"g1","h":9,"v":3.5},{"s":"g1","h":9.5,"v":3},{"s":"g1","h":10,"v":2.5},{"s":"g1","h":10.5,"v":1},{"s":"g1","h":11,"v":0.5},{"s":"g1","h":11.5,"v":-0.5},{"s":"g1","h":12,"v":-1},{"s":"g1","h":12.5,"v":-0.5},{"s":"g1","h":13,"v":-1.5},{"s":"g1","h":13.5,"v":-1},{"s":"g1","h":14,"v":0},{"s":"g1","h":14.5,"v":1},{"s":"g1","h":15,"v":2.5},{"s":"g1","h":15.5,"v":3.5},{"s":"g1","h":16,"v":4},{"s":"g1","h":16.5,"v":5.5},{"s":"g1","h":17,"v":6.8},{"s":"g1","h":17.2,"v":8},{"s":"g1","h":17.6,"v":9.4},{"s":"g1","h":18.3,"v":10.3},{"s":"g1","h":18.7,"v":10},{"s":"g1","h":19.1,"v":10.7},{"s":"g1","h":19.5,"v":10},{"s":"g1","h":20,"v":11.3},{"s":"g1","h":20.6,"v":11.9},{"s":"g1","h":20.85,"v":11.7},{"s":"g1","h":21.25,"v":10.9},{"s":"g1","h":21.7,"v":10},{"s":"g1","h":22.3,"v":10.7},{"s":"g1","h":22.8,"v":9.4},{"s":"g1","h":23.4,"v":7.4},{"s":"g1","h":23.78,"v":6},

{"s":"g2","h":0,"v":0},{"s":"g2","h":0.5,"v":1},{"s":"g2","h":1,"v":-0.5},{"s":"g2","h":1.5,"v":-2},{"s":"g2","h":2,"v":-3},{"s":"g2","h":2.5,"v":-2},{"s":"g2","h":3,"v":-3.5},{"s":"g2","h":3.5,"v":-2.5},{"s":"g2","h":4,"v":-1},{"s":"g2","h":4.5,"v":0.5},{"s":"g2","h":5,"v":1},{"s":"g2","h":5.5,"v":3},{"s":"g2","h":6,"v":2},{"s":"g2","h":6.5,"v":0.5},{"s":"g2","h":7,"v":1.5},{"s":"g2","h":7.5,"v":2.5},{"s":"g2","h":8,"v":1},{"s":"g2","h":8.5,"v":0.5},{"s":"g2","h":9,"v":-0.5},{"s":"g2","h":9.5,"v":0},{"s":"g2","h":10,"v":-1.5},{"s":"g2","h":10.5,"v":-1},{"s":"g2","h":11,"v":-0.5},{"s":"g2","h":11.5,"v":1},{"s":"g2","h":12,"v":0.5},{"s":"g2","h":12.5,"v":-0.5},{"s":"g2","h":13,"v":-1},{"s":"g2","h":13.5,"v":-2},{"s":"g2","h":14,"v":-1.5},{"s":"g2","h":14.5,"v":-3},{"s":"g2","h":15,"v":-4},{"s":"g2","h":15.5,"v":-4.5},{"s":"g2","h":16,"v":-3.5},{"s":"g2","h":16.5,"v":-4.5},{"s":"g2","h":17,"v":-5},{"s":"g2","h":17.5,"v":-4.5},{"s":"g2","h":18,"v":-3.5},{"s":"g2","h":18.5,"v":-4},{"s":"g2","h":19,"v":-3},{"s":"g2","h":19.5,"v":-0.5},{"s":"g2","h":20,"v":-1},{"s":"g2","h":20.5,"v":-1.5},{"s":"g2","h":21,"v":-0.5},{"s":"g2","h":21.5,"v":-2},{"s":"g2","h":22,"v":-2.5},{"s":"g2","h":22.5,"v":-3.5},{"s":"g2","h":23,"v":-2.5},{"s":"g2","h":23.5,"v":-1},{"s":"g2","h":23.78,"v":0},

{"s":"g3","h":0,"v":0},{"s":"g3","h":0.5,"v":-2},{"s":"g3","h":1,"v":-4},{"s":"g3","h":1.5,"v":-3.5},{"s":"g3","h":2,"v":-4.5},{"s":"g3","h":2.5,"v":-3},{"s":"g3","h":3,"v":-4},{"s":"g3","h":3.5,"v":-2.5},{"s":"g3","h":4,"v":-3},{"s":"g3","h":4.5,"v":-1.5},{"s":"g3","h":5,"v":0.5},{"s":"g3","h":5.5,"v":2},{"s":"g3","h":6,"v":3.5},{"s":"g3","h":6.5,"v":5},{"s":"g3","h":7,"v":4},{"s":"g3","h":7.5,"v":6},{"s":"g3","h":8,"v":7},{"s":"g3","h":8.5,"v":6.5},{"s":"g3","h":9,"v":5.5},{"s":"g3","h":9.5,"v":7},{"s":"g3","h":10,"v":8},{"s":"g3","h":10.5,"v":7},{"s":"g3","h":11,"v":6},{"s":"g3","h":11.5,"v":5},{"s":"g3","h":12,"v":6},{"s":"g3","h":12.5,"v":7},{"s":"g3","h":13,"v":6},{"s":"g3","h":13.5,"v":5.5},{"s":"g3","h":14,"v":4.5},{"s":"g3","h":14.5,"v":3},{"s":"g3","h":15,"v":2},{"s":"g3","h":15.5,"v":1},{"s":"g3","h":16,"v":0.5},{"s":"g3","h":16.5,"v":-0.5},{"s":"g3","h":17,"v":-1.5},{"s":"g3","h":17.5,"v":-1},{"s":"g3","h":18,"v":-2},{"s":"g3","h":18.5,"v":-3},{"s":"g3","h":19,"v":-2.5},{"s":"g3","h":19.5,"v":-1},{"s":"g3","h":20,"v":0},{"s":"g3","h":20.5,"v":-0.5},{"s":"g3","h":21,"v":1},{"s":"g3","h":21.5,"v":2},{"s":"g3","h":22,"v":0.5},{"s":"g3","h":22.5,"v":1.5},{"s":"g3","h":23,"v":0},{"s":"g3","h":23.5,"v":0.5},{"s":"g3","h":23.78,"v":0},

{"s":"c1","h":0,"v":0},{"s":"c1","h":0.5,"v":1},{"s":"c1","h":1,"v":2.5},{"s":"c1","h":1.5,"v":1},{"s":"c1","h":2,"v":0},{"s":"c1","h":2.5,"v":1.5},{"s":"c1","h":3,"v":-1},{"s":"c1","h":3.5,"v":0.5},{"s":"c1","h":4,"v":2},{"s":"c1","h":4.5,"v":4},{"s":"c1","h":5,"v":5.5},{"s":"c1","h":5.5,"v":4.5},{"s":"c1","h":6,"v":5.5},{"s":"c1","h":6.5,"v":3.5},{"s":"c1","h":7,"v":4},{"s":"c1","h":7.5,"v":2.5},{"s":"c1","h":8,"v":3},{"s":"c1","h":8.5,"v":1.5},{"s":"c1","h":9,"v":2.5},{"s":"c1","h":9.5,"v":1},{"s":"c1","h":10,"v":0.5},{"s":"c1","h":10.5,"v":-1},{"s":"c1","h":11,"v":0},{"s":"c1","h":11.5,"v":-2},{"s":"c1","h":12,"v":-1.5},{"s":"c1","h":12.5,"v":-3},{"s":"c1","h":13,"v":-2.5},{"s":"c1","h":13.5,"v":-4},{"s":"c1","h":14,"v":-3.5},{"s":"c1","h":14.5,"v":-5},{"s":"c1","h":15,"v":-4},{"s":"c1","h":15.5,"v":-5.5},{"s":"c1","h":16,"v":-3.5},{"s":"c1","h":16.5,"v":-2},{"s":"c1","h":17,"v":-1.5},{"s":"c1","h":17.3,"v":3},{"s":"c1","h":17.7,"v":4},{"s":"c1","h":18,"v":3.5},{"s":"c1","h":18.5,"v":2},{"s":"c1","h":19,"v":2.5},{"s":"c1","h":19.5,"v":1.5},{"s":"c1","h":20,"v":0},{"s":"c1","h":20.5,"v":-1},{"s":"c1","h":21,"v":-2},{"s":"c1","h":21.5,"v":-1.5},{"s":"c1","h":22,"v":-3},{"s":"c1","h":22.5,"v":-4},{"s":"c1","h":23,"v":-2.5},{"s":"c1","h":23.5,"v":-3.5},{"s":"c1","h":23.78,"v":-4},

{"s":"c3","h":0,"v":0},{"s":"c3","h":0.5,"v":-1},{"s":"c3","h":1,"v":-0.5},{"s":"c3","h":1.5,"v":-2},{"s":"c3","h":2,"v":-1.5},{"s":"c3","h":2.5,"v":-3},{"s":"c3","h":3,"v":-2},{"s":"c3","h":3.5,"v":-3.5},{"s":"c3","h":4,"v":-4.5},{"s":"c3","h":4.5,"v":-3},{"s":"c3","h":5,"v":-2},{"s":"c3","h":5.5,"v":0},{"s":"c3","h":6,"v":1.5},{"s":"c3","h":6.5,"v":3},{"s":"c3","h":7,"v":4},{"s":"c3","h":7.5,"v":3},{"s":"c3","h":8,"v":5},{"s":"c3","h":8.5,"v":6.5},{"s":"c3","h":9,"v":6},{"s":"c3","h":9.5,"v":5},{"s":"c3","h":10,"v":6.5},{"s":"c3","h":10.5,"v":5.5},{"s":"c3","h":11,"v":4},{"s":"c3","h":11.5,"v":2.5},{"s":"c3","h":12,"v":3},{"s":"c3","h":12.5,"v":1.5},{"s":"c3","h":13,"v":2},{"s":"c3","h":13.5,"v":1},{"s":"c3","h":14,"v":0},{"s":"c3","h":14.5,"v":-1},{"s":"c3","h":15,"v":-0.5},{"s":"c3","h":15.5,"v":0.5},{"s":"c3","h":16,"v":2},{"s":"c3","h":16.5,"v":3.5},{"s":"c3","h":17,"v":5},{"s":"c3","h":17.5,"v":6},{"s":"c3","h":18,"v":7},{"s":"c3","h":18.35,"v":7.5},{"s":"c3","h":18.5,"v":15.2},{"s":"c3","h":19.2,"v":15.8},{"s":"c3","h":19.6,"v":15.6},{"s":"c3","h":19.9,"v":16.5},{"s":"c3","h":20.3,"v":15.8},{"s":"c3","h":20.85,"v":16.2},{"s":"c3","h":21.4,"v":14.8},{"s":"c3","h":21.7,"v":13.3},{"s":"c3","h":22.1,"v":11.9},{"s":"c3","h":22.7,"v":11.3},{"s":"c3","h":23.1,"v":10.3},{"s":"c3","h":23.78,"v":12.5},

{"s":"n1","h":0,"v":0},{"s":"n1","h":1,"v":-1},{"s":"n1","h":2,"v":-2.5},{"s":"n1","h":3,"v":-4},{"s":"n1","h":4,"v":-5.5},{"s":"n1","h":5,"v":-6.5},{"s":"n1","h":6,"v":-8},{"s":"n1","h":7,"v":-8.5},{"s":"n1","h":8,"v":-9.7},{"s":"n1","h":8.5,"v":-10.1},{"s":"n1","h":9.1,"v":-11},{"s":"n1","h":9.8,"v":-10.4},{"s":"n1","h":10.5,"v":-11.4},{"s":"n1","h":11.1,"v":-11.6},{"s":"n1","h":11.7,"v":-12},{"s":"n1","h":12.3,"v":-12.4},{"s":"n1","h":13,"v":-13},{"s":"n1","h":13.5,"v":-14},{"s":"n1","h":14,"v":-15},{"s":"n1","h":14.4,"v":-14.6},{"s":"n1","h":14.9,"v":-12},{"s":"n1","h":15.2,"v":-11},{"s":"n1","h":15.6,"v":-11.5},{"s":"n1","h":16,"v":-11},{"s":"n1","h":16.5,"v":-10.5},{"s":"n1","h":17,"v":-10},{"s":"n1","h":17.4,"v":-11},{"s":"n1","h":17.8,"v":-10},{"s":"n1","h":18,"v":-9.5},{"s":"n1","h":18.5,"v":-10.5},{"s":"n1","h":19,"v":-10},{"s":"n1","h":19.5,"v":-11},{"s":"n1","h":20,"v":-11.5},{"s":"n1","h":20.5,"v":-12},{"s":"n1","h":21,"v":-11.5},{"s":"n1","h":21.5,"v":-12.5},{"s":"n1","h":22,"v":-11},{"s":"n1","h":22.5,"v":-12},{"s":"n1","h":23,"v":-11},{"s":"n1","h":23.5,"v":-10.5},{"s":"n1","h":23.78,"v":-10},

{"s":"b4","h":0,"v":0},{"s":"b4","h":1,"v":0.5},{"s":"b4","h":2,"v":-1.5},{"s":"b4","h":3,"v":-3},{"s":"b4","h":4,"v":-2},{"s":"b4","h":5,"v":-4},{"s":"b4","h":6,"v":-3},{"s":"b4","h":7,"v":-5},{"s":"b4","h":8,"v":-4},{"s":"b4","h":9,"v":-5.5},{"s":"b4","h":10,"v":-7},{"s":"b4","h":11,"v":-6},{"s":"b4","h":12,"v":-8},{"s":"b4","h":12.5,"v":-9},{"s":"b4","h":13,"v":-7.5},{"s":"b4","h":13.5,"v":-9},{"s":"b4","h":14,"v":-10.5},{"s":"b4","h":14.5,"v":-9.5},{"s":"b4","h":15,"v":-8},{"s":"b4","h":15.5,"v":-7},{"s":"b4","h":16,"v":-6.5},{"s":"b4","h":16.5,"v":-7.5},{"s":"b4","h":17,"v":-6},{"s":"b4","h":17.5,"v":-7},{"s":"b4","h":18,"v":-6.5},{"s":"b4","h":18.5,"v":-7.5},{"s":"b4","h":19,"v":-8},{"s":"b4","h":19.5,"v":-9},{"s":"b4","h":20,"v":-8.5},{"s":"b4","h":20.5,"v":-10},{"s":"b4","h":21,"v":-11.5},{"s":"b4","h":21.5,"v":-12},{"s":"b4","h":21.8,"v":-11},{"s":"b4","h":22,"v":-8},{"s":"b4","h":22.5,"v":-7},{"s":"b4","h":23,"v":-4},{"s":"b4","h":23.3,"v":-2},{"s":"b4","h":23.5,"v":-1},{"s":"b4","h":23.78,"v":0},

{"s":"l2","h":0,"v":0},{"s":"l2","h":0.5,"v":-1},{"s":"l2","h":1,"v":-2},{"s":"l2","h":1.5,"v":-4.8},{"s":"l2","h":2.5,"v":-6.2},{"s":"l2","h":3.2,"v":-7.1},{"s":"l2","h":3.5,"v":-6.7},{"s":"l2","h":4,"v":-7.7},{"s":"l2","h":4.5,"v":-9},{"s":"l2","h":5,"v":-8},{"s":"l2","h":5.5,"v":-9},{"s":"l2","h":6,"v":-8},{"s":"l2","h":6.5,"v":-7},{"s":"l2","h":7,"v":-5},{"s":"l2","h":7.5,"v":-6},{"s":"l2","h":8,"v":-4.5},{"s":"l2","h":8.5,"v":-5},{"s":"l2","h":9,"v":-3.5},{"s":"l2","h":9.5,"v":-4},{"s":"l2","h":10,"v":-2.5},{"s":"l2","h":10.5,"v":-3},{"s":"l2","h":11,"v":-1.5},{"s":"l2","h":11.5,"v":-2},{"s":"l2","h":12,"v":-3},{"s":"l2","h":12.5,"v":-1.5},{"s":"l2","h":13,"v":-2.5},{"s":"l2","h":13.5,"v":-4},{"s":"l2","h":14,"v":-3},{"s":"l2","h":14.5,"v":-5.5},{"s":"l2","h":15,"v":-4.5},{"s":"l2","h":15.5,"v":-6},{"s":"l2","h":16,"v":-5},{"s":"l2","h":16.5,"v":-6.5},{"s":"l2","h":17,"v":-5.5},{"s":"l2","h":17.5,"v":-7},{"s":"l2","h":18,"v":-6},{"s":"l2","h":18.5,"v":-8},{"s":"l2","h":19,"v":-7},{"s":"l2","h":19.5,"v":-5},{"s":"l2","h":20,"v":-6},{"s":"l2","h":20.5,"v":-7.5},{"s":"l2","h":21,"v":-6.5},{"s":"l2","h":21.5,"v":-5},{"s":"l2","h":22,"v":-6},{"s":"l2","h":22.5,"v":-4.5},{"s":"l2","h":23,"v":-5.5},{"s":"l2","h":23.5,"v":-6},{"s":"l2","h":23.78,"v":-5.5},

{"s":"b6","h":0,"v":0},{"s":"b6","h":0.5,"v":1.5},{"s":"b6","h":1,"v":3},{"s":"b6","h":1.5,"v":2},{"s":"b6","h":2,"v":4.5},{"s":"b6","h":2.5,"v":3},{"s":"b6","h":3,"v":2.5},{"s":"b6","h":3.5,"v":4},{"s":"b6","h":4,"v":2},{"s":"b6","h":4.5,"v":1},{"s":"b6","h":5,"v":2.5},{"s":"b6","h":5.5,"v":1},{"s":"b6","h":6,"v":3},{"s":"b6","h":6.5,"v":5.5},{"s":"b6","h":7,"v":7},{"s":"b6","h":7.5,"v":6},{"s":"b6","h":8,"v":4.5},{"s":"b6","h":8.5,"v":5.5},{"s":"b6","h":9,"v":4},{"s":"b6","h":9.5,"v":6},{"s":"b6","h":10,"v":5},{"s":"b6","h":10.5,"v":3.5},{"s":"b6","h":11,"v":4},{"s":"b6","h":11.5,"v":3},{"s":"b6","h":12,"v":2},{"s":"b6","h":12.5,"v":3},{"s":"b6","h":13,"v":1.5},{"s":"b6","h":13.5,"v":0.5},{"s":"b6","h":14,"v":1},{"s":"b6","h":14.5,"v":-0.5},{"s":"b6","h":15,"v":0},{"s":"b6","h":15.5,"v":-1.5},{"s":"b6","h":16,"v":-0.5},{"s":"b6","h":16.5,"v":1},{"s":"b6","h":17,"v":0.5},{"s":"b6","h":17.5,"v":2},{"s":"b6","h":18,"v":2.5},{"s":"b6","h":18.5,"v":1},{"s":"b6","h":19,"v":3},{"s":"b6","h":19.5,"v":4.5},{"s":"b6","h":20,"v":3.5},{"s":"b6","h":20.5,"v":5},{"s":"b6","h":21,"v":6.5},{"s":"b6","h":21.5,"v":7},{"s":"b6","h":22,"v":6},{"s":"b6","h":22.5,"v":7.5},{"s":"b6","h":23,"v":8},{"s":"b6","h":23.5,"v":7.5},{"s":"b6","h":23.78,"v":7},

{"s":"l3","h":0,"v":0},{"s":"l3","h":0.5,"v":-0.5},{"s":"l3","h":1,"v":1},{"s":"l3","h":1.5,"v":0},{"s":"l3","h":2,"v":-1.5},{"s":"l3","h":2.5,"v":0.5},{"s":"l3","h":3,"v":2},{"s":"l3","h":3.5,"v":1},{"s":"l3","h":4,"v":3},{"s":"l3","h":4.5,"v":5.5},{"s":"l3","h":5,"v":4},{"s":"l3","h":5.5,"v":3},{"s":"l3","h":6,"v":4.5},{"s":"l3","h":6.5,"v":6},{"s":"l3","h":7,"v":5},{"s":"l3","h":7.5,"v":7.5},{"s":"l3","h":8,"v":9},{"s":"l3","h":8.5,"v":8},{"s":"l3","h":9,"v":7},{"s":"l3","h":9.5,"v":8.5},{"s":"l3","h":10,"v":7.5},{"s":"l3","h":10.5,"v":9.5},{"s":"l3","h":11,"v":10.5},{"s":"l3","h":11.5,"v":9},{"s":"l3","h":12,"v":8},{"s":"l3","h":12.5,"v":9.5},{"s":"l3","h":13,"v":7},{"s":"l3","h":13.5,"v":8.5},{"s":"l3","h":14,"v":7.5},{"s":"l3","h":14.5,"v":8},{"s":"l3","h":15,"v":9.5},{"s":"l3","h":15.5,"v":8.5},{"s":"l3","h":16,"v":10},{"s":"l3","h":16.5,"v":9.5},{"s":"l3","h":17,"v":11},{"s":"l3","h":17.5,"v":10.5},{"s":"l3","h":18,"v":11.5},{"s":"l3","h":18.5,"v":10},{"s":"l3","h":19,"v":9},{"s":"l3","h":19.5,"v":10},{"s":"l3","h":20,"v":8.5},{"s":"l3","h":20.5,"v":9.5},{"s":"l3","h":21,"v":10.5},{"s":"l3","h":21.5,"v":9.5},{"s":"l3","h":22,"v":8},{"s":"l3","h":22.5,"v":9},{"s":"l3","h":23,"v":10},{"s":"l3","h":23.5,"v":9.5},{"s":"l3","h":23.78,"v":9},

{"s":"n2","h":0,"v":0},{"s":"n2","h":0.5,"v":0.5},{"s":"n2","h":1,"v":-1},{"s":"n2","h":1.5,"v":0},{"s":"n2","h":2,"v":1.5},{"s":"n2","h":2.5,"v":0.5},{"s":"n2","h":3,"v":-0.5},{"s":"n2","h":3.5,"v":-2},{"s":"n2","h":4,"v":-3.5},{"s":"n2","h":4.5,"v":-2},{"s":"n2","h":5,"v":-3},{"s":"n2","h":5.5,"v":-4.5},{"s":"n2","h":6,"v":-3.5},{"s":"n2","h":6.5,"v":-5},{"s":"n2","h":7,"v":-4},{"s":"n2","h":7.5,"v":-3},{"s":"n2","h":8,"v":-1.5},{"s":"n2","h":8.5,"v":-2.5},{"s":"n2","h":9,"v":-1},{"s":"n2","h":9.5,"v":-2},{"s":"n2","h":10,"v":-3.5},{"s":"n2","h":10.5,"v":-4.5},{"s":"n2","h":11,"v":-3.5},{"s":"n2","h":11.5,"v":-5},{"s":"n2","h":12,"v":-4},{"s":"n2","h":12.5,"v":-5.5},{"s":"n2","h":13,"v":-6.5},{"s":"n2","h":13.5,"v":-5.5},{"s":"n2","h":14,"v":-7},{"s":"n2","h":14.5,"v":-8},{"s":"n2","h":15,"v":-7},{"s":"n2","h":15.5,"v":-8.5},{"s":"n2","h":16,"v":-7.5},{"s":"n2","h":16.5,"v":-9},{"s":"n2","h":17,"v":-8},{"s":"n2","h":17.5,"v":-9.5},{"s":"n2","h":18,"v":-10.5},{"s":"n2","h":18.5,"v":-9.5},{"s":"n2","h":19,"v":-10},{"s":"n2","h":19.5,"v":-11.5},{"s":"n2","h":20,"v":-10.5},{"s":"n2","h":20.5,"v":-12},{"s":"n2","h":21,"v":-13},{"s":"n2","h":21.5,"v":-12.5},{"s":"n2","h":22,"v":-11},{"s":"n2","h":22.5,"v":-10},{"s":"n2","h":23,"v":-9.5},{"s":"n2","h":23.5,"v":-9},{"s":"n2","h":23.78,"v":-8.5},

{"s":"m4","h":0,"v":0},{"s":"m4","h":0.5,"v":0.5},{"s":"m4","h":1,"v":-1},{"s":"m4","h":1.5,"v":-2.5},{"s":"m4","h":2,"v":-1},{"s":"m4","h":2.5,"v":1},{"s":"m4","h":3,"v":2.5},{"s":"m4","h":3.5,"v":1.5},{"s":"m4","h":4,"v":3},{"s":"m4","h":4.5,"v":5},{"s":"m4","h":5,"v":5.5},{"s":"m4","h":5.5,"v":4.5},{"s":"m4","h":6,"v":3.5},{"s":"m4","h":6.5,"v":2},{"s":"m4","h":7,"v":3},{"s":"m4","h":7.5,"v":1.5},{"s":"m4","h":8,"v":0},{"s":"m4","h":8.5,"v":-0.5},{"s":"m4","h":9,"v":-2},{"s":"m4","h":9.5,"v":-1.5},{"s":"m4","h":10,"v":-3},{"s":"m4","h":10.5,"v":-2.5},{"s":"m4","h":11,"v":-4},{"s":"m4","h":11.5,"v":-3.5},{"s":"m4","h":12,"v":-5},{"s":"m4","h":12.5,"v":-4},{"s":"m4","h":13,"v":-5.5},{"s":"m4","h":13.5,"v":-6.5},{"s":"m4","h":14,"v":-5},{"s":"m4","h":14.5,"v":-3},{"s":"m4","h":15,"v":-2.5},{"s":"m4","h":15.5,"v":-1},{"s":"m4","h":16,"v":-2},{"s":"m4","h":16.5,"v":-3.5},{"s":"m4","h":17,"v":-3},{"s":"m4","h":17.5,"v":-2},{"s":"m4","h":18,"v":-1.5},{"s":"m4","h":18.5,"v":-3},{"s":"m4","h":19,"v":-4.5},{"s":"m4","h":19.5,"v":-5},{"s":"m4","h":20,"v":-4},{"s":"m4","h":20.5,"v":-6},{"s":"m4","h":21,"v":-7.5},{"s":"m4","h":21.5,"v":-7},{"s":"m4","h":22,"v":-8.5},{"s":"m4","h":22.5,"v":-9},{"s":"m4","h":23,"v":-7.5},{"s":"m4","h":23.5,"v":-8},{"s":"m4","h":23.78,"v":-7},

{"s":"r5","h":0,"v":0},{"s":"r5","h":0.5,"v":-1},{"s":"r5","h":1,"v":0.5},{"s":"r5","h":1.5,"v":1.5},{"s":"r5","h":2,"v":0},{"s":"r5","h":2.5,"v":2},{"s":"r5","h":3,"v":1.5},{"s":"r5","h":3.5,"v":3},{"s":"r5","h":4,"v":2},{"s":"r5","h":4.5,"v":1},{"s":"r5","h":5,"v":3},{"s":"r5","h":5.5,"v":4.5},{"s":"r5","h":6,"v":5.5},{"s":"r5","h":6.5,"v":4},{"s":"r5","h":7,"v":5},{"s":"r5","h":7.5,"v":6.5},{"s":"r5","h":8,"v":5.5},{"s":"r5","h":8.5,"v":6},{"s":"r5","h":9,"v":4.5},{"s":"r5","h":9.5,"v":5.5},{"s":"r5","h":10,"v":4.5},{"s":"r5","h":10.92,"v":4.1},{"s":"r5","h":11.35,"v":5.1},{"s":"r5","h":11.77,"v":5.9},{"s":"r5","h":12.3,"v":4.5},{"s":"r5","h":13.05,"v":3.2},{"s":"r5","h":13.75,"v":3.6},{"s":"r5","h":14.45,"v":2.8},{"s":"r5","h":14.9,"v":3},{"s":"r5","h":15.2,"v":3.5},{"s":"r5","h":15.6,"v":4.9},{"s":"r5","h":17,"v":7},{"s":"r5","h":17.7,"v":5.9},{"s":"r5","h":18.3,"v":4.9},{"s":"r5","h":19,"v":4.1},{"s":"r5","h":19.3,"v":6.8},{"s":"r5","h":20.15,"v":4.5},{"s":"r5","h":20.4,"v":4.1},{"s":"r5","h":20.7,"v":6.4},{"s":"r5","h":21.1,"v":5.1},{"s":"r5","h":21.7,"v":4.1},{"s":"r5","h":22.1,"v":3.2},{"s":"r5","h":22.5,"v":3},{"s":"r5","h":22.95,"v":2},{"s":"r5","h":23.55,"v":0.4},{"s":"r5","h":23.78,"v":0.2},

{"s":"r6","h":0,"v":0},{"s":"r6","h":1,"v":1},{"s":"r6","h":2,"v":-0.5},{"s":"r6","h":3,"v":0.5},{"s":"r6","h":4,"v":-1},{"s":"r6","h":5,"v":-2.5},{"s":"r6","h":6,"v":-1.5},{"s":"r6","h":7,"v":-3},{"s":"r6","h":8,"v":-2},{"s":"r6","h":9,"v":-1},{"s":"r6","h":10,"v":0.5},{"s":"r6","h":11,"v":1.5},{"s":"r6","h":12,"v":0.5},{"s":"r6","h":13,"v":2},{"s":"r6","h":14,"v":3.5},{"s":"r6","h":14.75,"v":2.6},{"s":"r6","h":15.2,"v":13.2},{"s":"r6","h":15.5,"v":17},{"s":"r6","h":15.8,"v":20},{"s":"r6","h":16.2,"v":19},{"s":"r6","h":16.7,"v":18},{"s":"r6","h":17.2,"v":17},{"s":"r6","h":17.7,"v":16},{"s":"r6","h":18.2,"v":16.5},{"s":"r6","h":18.6,"v":15.5},{"s":"r6","h":19,"v":17},{"s":"r6","h":19.5,"v":16.5},{"s":"r6","h":20,"v":15.5},{"s":"r6","h":20.5,"v":15},{"s":"r6","h":21,"v":14},{"s":"r6","h":21.5,"v":15},{"s":"r6","h":22,"v":14.5},{"s":"r6","h":22.5,"v":15.5},{"s":"r6","h":23,"v":16},{"s":"r6","h":23.5,"v":15},{"s":"r6","h":23.78,"v":15}
]},
"layer": [
{
  "data": {"name": "walks"},
  "mark": {"type": "line", "strokeWidth": 1, "interpolate": "linear", "clip": true},
  "encoding": {
    "x": {"field": "h", "type": "quantitative", "scale": {"domain": [0, 23.78], "nice": false, "zero": false},
          "axis": {"title": "Hour of Day", "values": [0,1,2,3,4,5,6,7,8,9,10,11,12,13,14,15,16,17,18,19,20,21,22,23], "format": "d", "labelPadding": 11, "titlePadding": 3}},
    "y": {"field": "v", "type": "quantitative", "scale": {"domain": [-40, 40], "nice": false, "zero": false},
          "axis": {"title": "Cumulative (Z*Z)-1", "values": [-40,-30,-20,-10,0,10,20,30,40], "format": "d", "titlePadding": 7}},
    "color": {"field": "s", "type": "nominal", "legend": null,
      "scale": {"domain": ["n1","n2","b4","l2","m3","d3","y3","g3","g2","c1","m4","m2","m1","r5","r3","g1","b6","l3","c3","y2","b3","l1","b2","y1","r6","r4","d2","c2","b1","r2","d1","r1"],
                "range": ["#0000b0","#0000b0","#0000ff","#6464ff","#ff55ff","#a80000","#ffff00","#00a000","#00a000","#55ffff","#ff55ff","#ff55ff","#ff55ff","#ff0000","#ff0000","#00a000","#0000ff","#6464ff","#55ffff","#ffff00","#0000ff","#6464ff","#0000ff","#ffff00","#ff0000","#ff0000","#a80000","#55ffff","#0000ff","#ff0000","#a80000","#ff0000"]}},
    "order": {"field": "h", "type": "quantitative"}
  }
},
{
  "data": {"name": "frame"},
  "mark": {"type": "point", "opacity": 0},
  "encoding": {
    "x": {"field": "h", "type": "quantitative", "scale": {"domain": [0, 23.78], "nice": false, "zero": false},
          "axis": {"orient": "top", "title": null, "labels": false, "values": [0,1,2,3,4,5,6,7,8,9,10,11,12,13,14,15,16,17,18,19,20,21,22,23]}},
    "y": {"field": "v", "type": "quantitative", "scale": {"domain": [-40, 40], "nice": false, "zero": false},
          "axis": {"orient": "right", "title": null, "labels": false, "values": [-40,-30,-20,-10,0,10,20,30,40]}}
  }
}
],
"resolve": {"axis": {"x": "independent", "y": "independent"}}
}
